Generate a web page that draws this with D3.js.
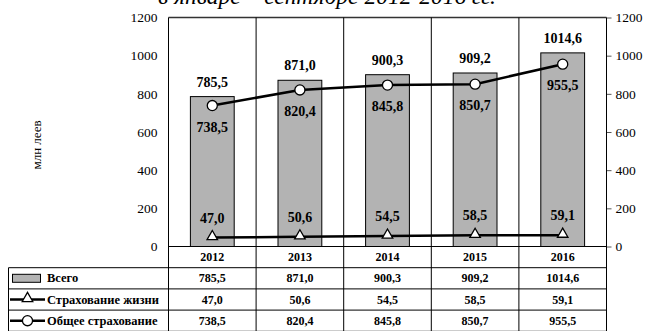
<!DOCTYPE html>
<html>
<head>
<meta charset="utf-8">
<script src="https://cdn.jsdelivr.net/npm/d3@7"></script>
<style>
  html, body { margin: 0; padding: 0; background: #fff; }
  svg { display: block; }
  svg text { font-family: "Liberation Serif", "DejaVu Serif", serif; }
</style>
</head>
<body>
<svg id="chart" width="646" height="331"></svg>
<script>
// Insurance premiums, January–September, mln lei
const years = ["2012", "2013", "2014", "2015", "2016"];
const total = [785.5, 871.0, 900.3, 909.2, 1014.6];
const life = [47.0, 50.6, 54.5, 58.5, 59.1];
const general = [738.5, 820.4, 845.8, 850.7, 955.5];
const yTicks = [0, 200, 400, 600, 800, 1000, 1200];
const seriesNames = ["Всего", "Страхование жизни", "Общее страхование"];
const titleText = "в январе – сентябре 2012-2016 гг.";
const yLabel = "млн леев";

const fmt = v => v.toFixed(1).replace(".", ",");
const SERIF = "Liberation Serif";

const svg = d3.select("#chart");
const plot = { left: 168.5, right: 606.5, top: 17.5, bottom: 246.5 };
const rowH = 21.2;
const tableLeft = 8.5;

const x = d3.scaleBand().domain(years).range([plot.left, plot.right]).paddingInner(0).paddingOuter(0);
const y = d3.scaleLinear().domain([0, 1200]).range([plot.bottom, plot.top]);
const barW = x.bandwidth() * 0.5;
const cx = d => x(d) + x.bandwidth() / 2;

// Title (runs off the top edge)
svg.append("text")
  .attr("x", 327).attr("y", 4)
  .attr("text-anchor", "middle")
  .attr("font-family", SERIF)
  .attr("font-style", "italic")
  .attr("font-size", 23.5)
  .text(titleText);

// Axis label
svg.append("text")
  .attr("transform", "translate(41,145) rotate(-90)")
  .attr("text-anchor", "middle")
  .attr("font-family", SERIF)
  .attr("font-size", 13)
  .text(yLabel);

// Left axis labels (no ticks)
const leftAxis = d3.axisLeft(y).tickValues(yTicks).tickSize(0).tickPadding(11).tickFormat(d3.format("d"));
const gl = svg.append("g").attr("transform", `translate(${plot.left},0)`).call(leftAxis)
  .attr("font-family", SERIF).attr("font-size", 13.5);
gl.select(".domain").remove();
gl.selectAll("text").attr("fill", "#000");

// Right axis with outside ticks
const rightAxis = d3.axisRight(y).tickValues(yTicks).tickSize(5).tickPadding(4).tickFormat(d3.format("d"));
const gr = svg.append("g").attr("transform", `translate(${plot.right},0)`).call(rightAxis)
  .attr("font-family", SERIF).attr("font-size", 13.5);
gr.select(".domain").remove();
gr.selectAll("line").attr("stroke", "#555");
gr.selectAll("text").attr("fill", "#000");

// Bars
svg.append("g").selectAll("rect").data(years).join("rect")
  .attr("x", d => cx(d) - barW / 2)
  .attr("y", (d, i) => y(total[i]))
  .attr("width", barW)
  .attr("height", (d, i) => y(0) - y(total[i]))
  .attr("fill", "#b3b3b3")
  .attr("stroke", "#000")
  .attr("stroke-width", 1);

// Plot frame and category dividers (run down through the table)
const tableBottom = plot.bottom + rowH * 4;
svg.append("line").attr("x1", plot.left).attr("x2", plot.right).attr("y1", plot.top).attr("y2", plot.top)
  .attr("stroke", "#333").attr("stroke-width", 1.5);
svg.append("line").attr("x1", plot.left).attr("x2", plot.right).attr("y1", plot.bottom).attr("y2", plot.bottom)
  .attr("stroke", "#000").attr("stroke-width", 1);
const dividers = years.map(d => x(d)).concat([plot.right]);
svg.append("g").selectAll("line").data(dividers).join("line")
  .attr("x1", d => d).attr("x2", d => d)
  .attr("y1", plot.top).attr("y2", tableBottom)
  .attr("stroke", "#000").attr("stroke-width", 1);

// Lines
const lineGen = d3.line().x(d => cx(d[0])).y(d => y(d[1]));
const lifePts = years.map((d, i) => [d, life[i]]);
const genPts = years.map((d, i) => [d, general[i]]);
svg.append("path").datum(genPts).attr("d", lineGen).attr("fill", "none").attr("stroke", "#000").attr("stroke-width", 2.5);
svg.append("path").datum(lifePts).attr("d", lineGen).attr("fill", "none").attr("stroke", "#000").attr("stroke-width", 2.5);

const tri = d3.symbol().type(d3.symbolTriangle).size(48);
const circ = d3.symbol().type(d3.symbolCircle).size(80);
svg.append("g").selectAll("path").data(lifePts).join("path")
  .attr("transform", d => `translate(${cx(d[0])},${y(d[1]) - 1})`)
  .attr("d", tri).attr("fill", "#fff").attr("stroke", "#000").attr("stroke-width", 1.3);
svg.append("g").selectAll("path").data(genPts).join("path")
  .attr("transform", d => `translate(${cx(d[0])},${y(d[1])})`)
  .attr("d", circ).attr("fill", "#fff").attr("stroke", "#000").attr("stroke-width", 1.3);

// Data labels
const lbl = svg.append("g").attr("font-family", SERIF).attr("font-weight", "bold")
  .attr("font-size", 14).attr("text-anchor", "middle");
lbl.selectAll(".lt").data(years).join("text").attr("class", "lt")
  .attr("x", cx).attr("y", (d, i) => y(total[i]) - 10).text((d, i) => fmt(total[i]));
lbl.selectAll(".lg").data(years).join("text").attr("class", "lg")
  .attr("x", cx).attr("y", (d, i) => y(general[i]) + 26).text((d, i) => fmt(general[i]));
lbl.selectAll(".ll").data(years).join("text").attr("class", "ll")
  .attr("x", cx).attr("y", (d, i) => y(life[i]) - 15).text((d, i) => fmt(life[i]));

// Data table
const tbl = svg.append("g").attr("font-family", SERIF).attr("font-weight", "bold").attr("font-size", 12);
const rowY = i => plot.bottom + rowH * i;
// horizontal rules
[1, 2, 3, 4].forEach(i => {
  tbl.append("line").attr("x1", tableLeft).attr("x2", plot.right)
    .attr("y1", rowY(i)).attr("y2", rowY(i)).attr("stroke", "#000").attr("stroke-width", 1);
});
tbl.append("line").attr("x1", tableLeft).attr("x2", tableLeft)
  .attr("y1", rowY(1)).attr("y2", rowY(4)).attr("stroke", "#000");
// year row
tbl.selectAll(".yr").data(years).join("text").attr("class", "yr")
  .attr("x", cx).attr("y", rowY(0) + rowH / 2 + 4).attr("text-anchor", "middle").text(d => d);
// value rows
[total, life, general].forEach((vals, r) => {
  tbl.selectAll(".v" + r).data(years).join("text").attr("class", "v" + r)
    .attr("x", cx).attr("y", rowY(r + 1) + rowH / 2 + 4).attr("text-anchor", "middle")
    .text((d, i) => fmt(vals[i]));
});
// legend keys
seriesNames.forEach((name, r) => {
  const my = rowY(r + 1) + rowH / 2;
  if (r === 0) {
    tbl.append("rect").attr("x", 12.5).attr("y", my - 4).attr("width", 28).attr("height", 8)
      .attr("fill", "#b3b3b3").attr("stroke", "#000").attr("stroke-width", 1);
  } else {
    tbl.append("line").attr("x1", 10).attr("x2", 45).attr("y1", my).attr("y2", my)
      .attr("stroke", "#000").attr("stroke-width", 2.5);
    tbl.append("path").attr("transform", `translate(27.5,${my - (r === 1 ? 1 : 0)})`)
      .attr("d", r === 1 ? tri : circ).attr("fill", "#fff").attr("stroke", "#000").attr("stroke-width", 1.3);
  }
  tbl.append("text").attr("x", 47).attr("y", my + 4).attr("font-size", 12.5).text(name);
});
</script>
</body>
</html>
